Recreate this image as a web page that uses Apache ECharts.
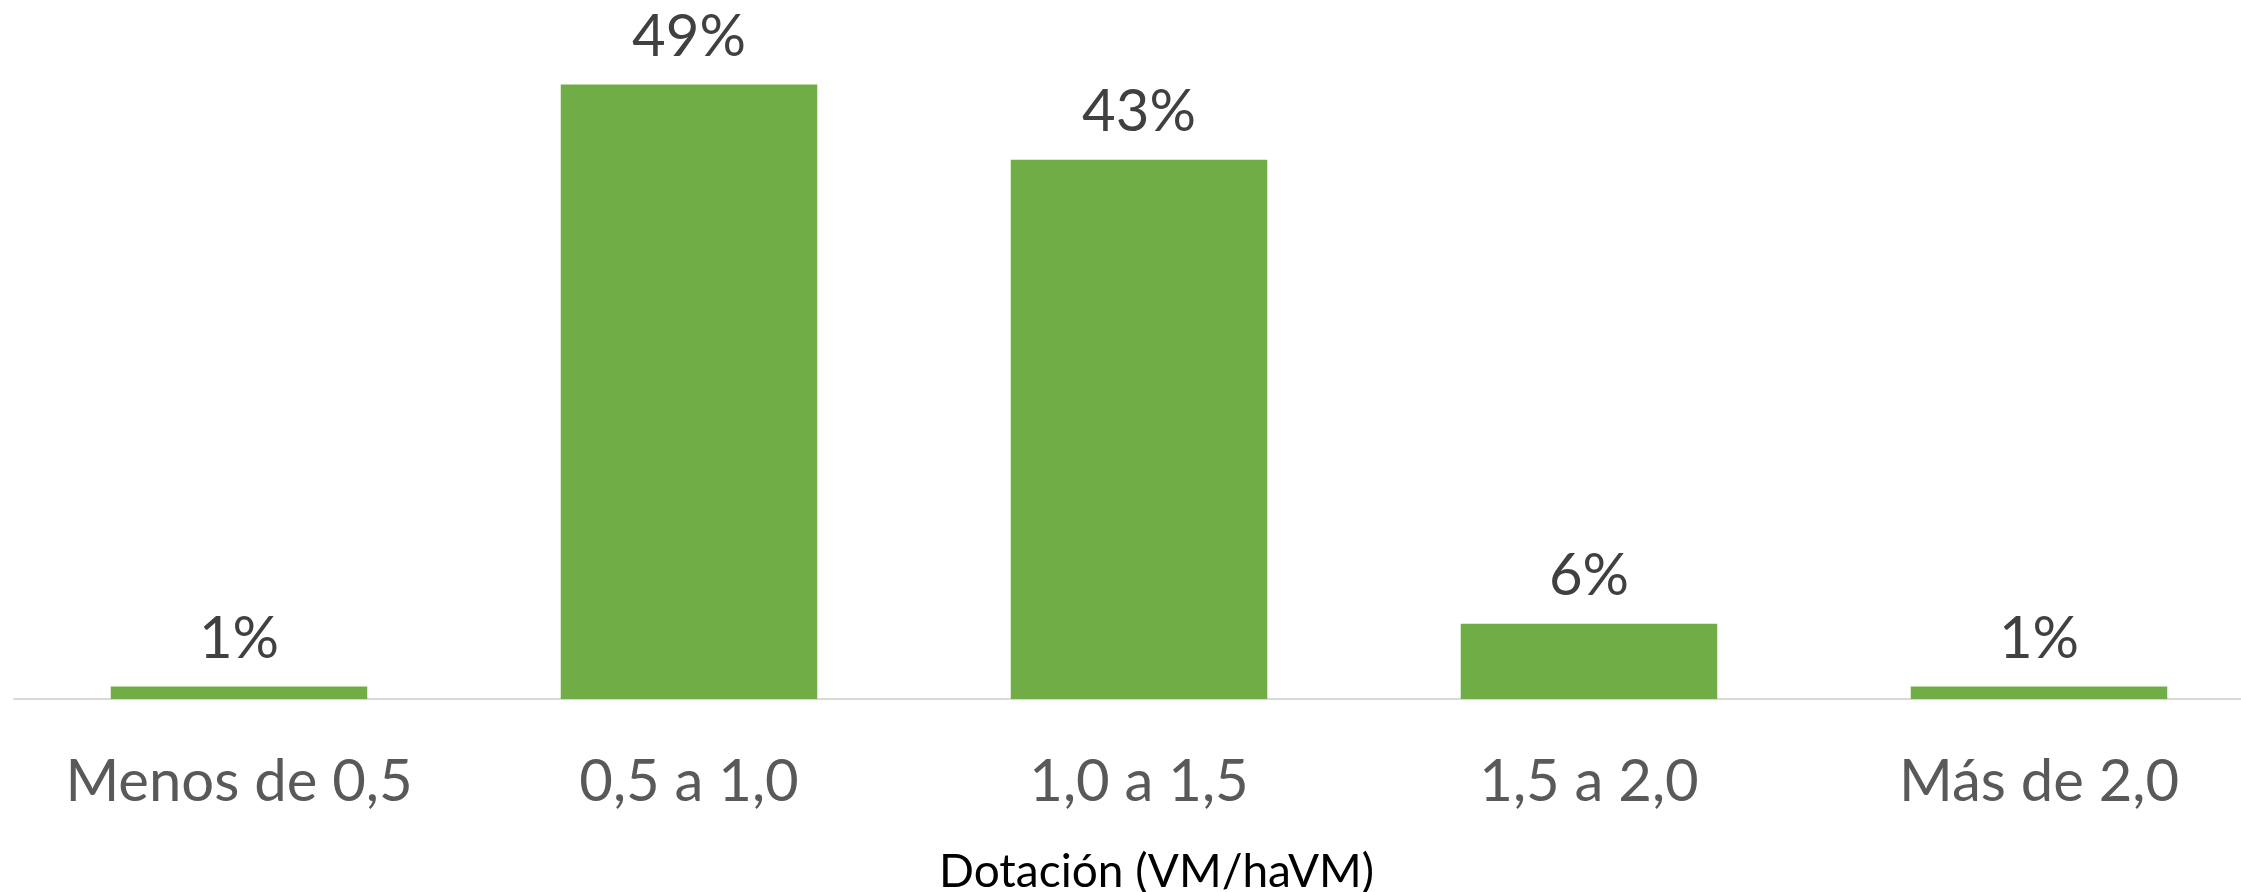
<!DOCTYPE html>
<html>
<head>
<meta charset="utf-8">
<script src="https://cdn.jsdelivr.net/npm/echarts@6/dist/echarts.min.js"></script>
<style>
  html, body { margin: 0; padding: 0; background: #ffffff; overflow: hidden; }
  /* the plot runs slightly past the right edge of the page */
  #chart { width: 2280px; height: 892px; }
</style>
</head>
<body>
<div id="chart"></div>
<script>
// Distribution of stands by stocking class (VM per ha VM)
const categories = ['Menos de 0,5', '0,5 a 1,0', '1,0 a 1,5', '1,5 a 2,0', 'Más de 2,0'];
const shares = [1, 49, 43, 6, 1];
const axisTitle = 'Dotación (VM/haVM)';

const FONT = 'Lato, "Open Sans", sans-serif';

const chart = echarts.init(document.getElementById('chart'), null, { renderer: 'canvas' });

chart.setOption({
  backgroundColor: '#ffffff',
  animation: false,
  grid: { left: 14, top: 72, width: 2250, height: 627, containLabel: false },
  title: {
    text: axisTitle,
    left: 934,
    top: 844,
    textStyle: { fontFamily: FONT, fontSize: 46, fontWeight: 'normal', color: '#000000' }
  },
  xAxis: {
    type: 'category',
    data: categories,
    axisLine: { show: true, lineStyle: { color: '#d9d9d9', width: 2 } },
    axisTick: { show: false },
    axisLabel: {
      interval: 0,
      margin: 54,
      fontFamily: FONT,
      fontSize: 58,
      color: '#595959'
    }
  },
  yAxis: {
    type: 'value',
    min: 0,
    max: 50,
    show: false,
    splitLine: { show: false }
  },
  series: [{
    type: 'bar',
    data: shares,
    barWidth: '57%',
    itemStyle: { color: '#70ad47' },
    label: {
      show: true,
      position: 'top',
      distance: 18,
      formatter: p => p.value + '%',
      fontFamily: FONT,
      fontSize: 58,
      color: '#404040'
    }
  }]
});
</script>
</body>
</html>
